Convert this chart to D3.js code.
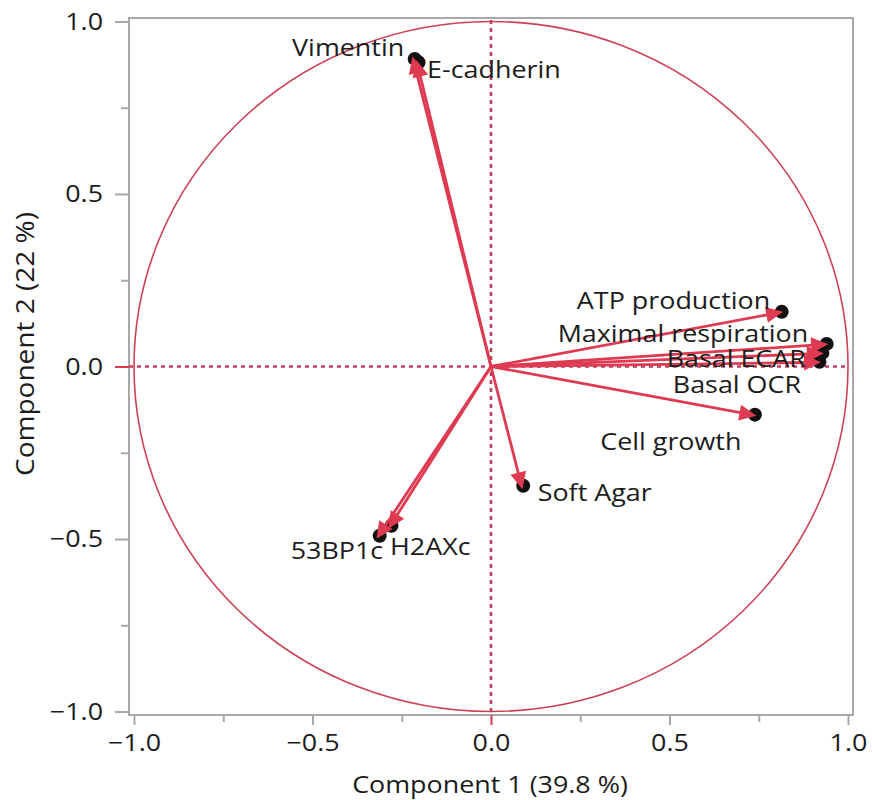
<!DOCTYPE html>
<html>
<head>
<meta charset="utf-8">
<script src="https://cdn.jsdelivr.net/npm/d3@7"></script>
<style>
  html, body { margin: 0; padding: 0; background: #fff; }
  svg text { font-family: "Open Sans", "Noto Sans", sans-serif; fill: #1c1c1c; }
</style>
</head>
<body>
<svg id="chart" width="872" height="800"></svg>
<script>
// Loading plot: variables and their loadings on the first two components
const variables = ["Vimentin", "E-cadherin", "ATP production", "Maximal respiration",
                   "Basal ECAR", "Basal OCR", "Cell growth", "Soft Agar", "53BP1c", "H2AXc"];
const comp1 = [-0.218, -0.207, 0.810, 0.936, 0.924, 0.916, 0.735, 0.086, -0.316, -0.283];
const comp2 = [0.890, 0.880, 0.157, 0.064, 0.038, 0.012, -0.141, -0.347, -0.492, -0.463];

const majorTicks = [-1.0, -0.5, 0.0, 0.5, 1.0];
const minorTicks = [-0.75, -0.25, 0.25, 0.75];
const xTitle = "Component 1  (39.8 %)";
const yTitle = "Component 2  (22 %)";

// label placement relative to each arrow tip: [anchor, dx, dy]
const labelPlacement = [
  ["end", -9, -13], ["start", 10, 6], ["end", -10, -13], ["end", -17, -12],
  ["end", -15, 4], ["end", -17, 21], ["end", -12, 25], ["start", 16, 5],
  ["end", 5, 13], ["start", 0, 19]
];

const sx = 1.12; // horizontal widening of all text

const svg = d3.select("#chart");
const frame = { left: 129, right: 853, top: 18, bottom: 715 };

const x = d3.scaleLinear().domain([-1.014, 1.014]).range([frame.left, frame.right]);
const y = d3.scaleLinear().domain([-1.01, 1.01]).range([frame.bottom, frame.top]);

const grey = "#a8a8a8";
const red = "#de3a52";
const circleRed = "#cf4157";
const dotRed = "#b9435f";

function widen(sel) {
  sel.each(function () {
    const t = d3.select(this);
    const xv = +(t.attr("x") || 0);
    t.attr("x", xv / sx).attr("transform", `scale(${sx},1)`);
  });
}

// frame
svg.append("rect")
  .attr("x", frame.left).attr("y", frame.top)
  .attr("width", frame.right - frame.left).attr("height", frame.bottom - frame.top)
  .attr("fill", "none").attr("stroke", grey).attr("stroke-width", 2);

// y axis (ticks outside the frame)
const yAxis = d3.axisLeft(y).tickValues(majorTicks).tickSize(14).tickPadding(12)
  .tickFormat(d3.format(".1f"));
const gy = svg.append("g").attr("transform", `translate(${frame.left},0)`).call(yAxis);
gy.select(".domain").remove();
gy.selectAll(".tick line").attr("stroke", grey).attr("stroke-width", 2);
gy.selectAll(".tick text").style("font-size", "24px").attr("fill", "#1c1c1c").call(widen);
gy.selectAll(".tick").filter(d => d === 0).select("line").attr("stroke", red);
const gyMinor = svg.append("g").attr("transform", `translate(${frame.left},0)`)
  .call(d3.axisLeft(y).tickValues(minorTicks).tickSize(8).tickFormat(""));
gyMinor.select(".domain").remove();
gyMinor.selectAll(".tick line").attr("stroke", grey).attr("stroke-width", 2);

// x axis
const xAxis = d3.axisBottom(x).tickValues(majorTicks).tickSize(10).tickPadding(9)
  .tickFormat(d3.format(".1f"));
const gx = svg.append("g").attr("transform", `translate(0,${frame.bottom})`).call(xAxis);
gx.select(".domain").remove();
gx.selectAll(".tick line").attr("stroke", grey).attr("stroke-width", 2);
gx.selectAll(".tick text").style("font-size", "24px").attr("fill", "#1c1c1c").call(widen);
gx.selectAll(".tick").filter(d => d === 0).select("line").attr("stroke", red);
const gxMinor = svg.append("g").attr("transform", `translate(0,${frame.bottom})`)
  .call(d3.axisBottom(x).tickValues(minorTicks).tickSize(7).tickFormat(""));
gxMinor.select(".domain").remove();
gxMinor.selectAll(".tick line").attr("stroke", grey).attr("stroke-width", 2);

// axis titles
svg.append("text")
  .attr("transform", `translate(490,784) scale(${sx},1)`)
  .attr("text-anchor", "middle").attr("dominant-baseline", "central")
  .style("font-size", "24px").text(xTitle);
svg.append("text")
  .attr("transform", `translate(25,344) rotate(-90) scale(${sx},1)`)
  .attr("text-anchor", "middle").attr("dominant-baseline", "central")
  .style("font-size", "25px").text(yTitle);

// unit circle
svg.append("ellipse")
  .attr("cx", x(0)).attr("cy", y(0))
  .attr("rx", x(1) - x(0)).attr("ry", y(0) - y(1))
  .attr("fill", "none").attr("stroke", circleRed).attr("stroke-width", 1.6);

// dotted zero lines
svg.append("line")
  .attr("x1", x(0)).attr("x2", x(0)).attr("y1", frame.top + 2).attr("y2", frame.bottom)
  .attr("stroke", dotRed).attr("stroke-width", 2.6).attr("stroke-dasharray", "4,4");
svg.append("line")
  .attr("x1", frame.left).attr("x2", frame.right - 6).attr("y1", y(0)).attr("y2", y(0))
  .attr("stroke", dotRed).attr("stroke-width", 2.6).attr("stroke-dasharray", "4,4");

// loadings
const data = variables.map((name, i) => ({ name, c1: comp1[i], c2: comp2[i], place: labelPlacement[i] }));

const ox = x(0), oy = y(0);
const headLen = 17, headHalf = 8, tipExtra = 3;

// black dots at each loading
svg.append("g").selectAll("circle").data(data).join("circle")
  .attr("cx", d => x(d.c1) + 1.5).attr("cy", d => y(d.c2) - 0.5)
  .attr("r", 7).attr("fill", "#111");

// arrows from the origin
const arrows = svg.append("g");
data.forEach(d => {
  const tx = x(d.c1), ty = y(d.c2);
  const len = Math.hypot(tx - ox, ty - oy);
  const ux = (tx - ox) / len, uy = (ty - oy) / len;
  const tipX = tx + ux * tipExtra, tipY = ty + uy * tipExtra;
  const bx = tipX - ux * headLen, by = tipY - uy * headLen;
  arrows.append("line")
    .attr("x1", ox).attr("y1", oy).attr("x2", bx + ux * 2).attr("y2", by + uy * 2)
    .attr("stroke", red).attr("stroke-width", 2.8);
  const px = -uy, py = ux;
  arrows.append("path")
    .attr("d", `M${tipX},${tipY}L${bx + px * headHalf},${by + py * headHalf}L${bx - px * headHalf},${by - py * headHalf}Z`)
    .attr("fill", red);
});

// variable labels
svg.append("g").selectAll("text").data(data).join("text")
  .attr("transform", d => `translate(${x(d.c1) + d.place[1]},${y(d.c2) + d.place[2]}) scale(${sx},1)`)
  .attr("text-anchor", d => d.place[0])
  .attr("dominant-baseline", "central")
  .style("font-size", "24px")
  .text(d => d.name);
</script>
</body>
</html>
